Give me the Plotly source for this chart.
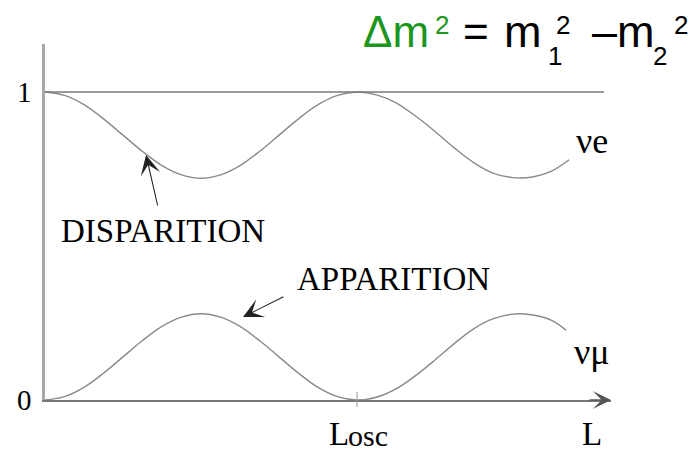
import plotly.graph_objects as go

# Distance along the baseline, in units of the oscillation length L_osc
L_OSC = 1.0
X_MAX = 1.814          # end of the distance axis (arrow tip)
Y_MAX = 1.156          # top of the probability axis

# Survival probability of the electron neutrino
x_e = [0.0, 0.0625, 0.125, 0.1875, 0.25, 0.3125, 0.375, 0.4375, 0.5,
       0.5625, 0.625, 0.6875, 0.75, 0.8125, 0.875, 0.9375, 1.0,
       1.0625, 1.125, 1.1875, 1.25, 1.3125, 1.375, 1.4375, 1.5,
       1.5625, 1.625, 1.68]
p_e = [1.0, 0.989, 0.959, 0.913, 0.86, 0.807, 0.761, 0.731, 0.72,
       0.731, 0.761, 0.807, 0.86, 0.913, 0.959, 0.989, 1.0,
       0.991, 0.965, 0.922, 0.872, 0.818, 0.770, 0.736, 0.722,
       0.724, 0.744, 0.78]

# Appearance probability of the muon neutrino
x_mu = [0.0, 0.0625, 0.125, 0.1875, 0.25, 0.3125, 0.375, 0.4375, 0.5,
        0.5625, 0.625, 0.6875, 0.75, 0.8125, 0.875, 0.9375, 1.0,
        1.0625, 1.125, 1.1875, 1.25, 1.3125, 1.375, 1.4375, 1.5,
        1.5625, 1.625, 1.67]
p_mu = [0.0, 0.011, 0.041, 0.087, 0.14, 0.193, 0.239, 0.269, 0.28,
        0.269, 0.239, 0.193, 0.14, 0.087, 0.041, 0.011, 0.0,
        0.009, 0.036, 0.079, 0.130, 0.184, 0.232, 0.264, 0.279,
        0.276, 0.258, 0.227]

y_ticks = [0, 1]
y_tick_text = ["0", "1"]

W, H = 698, 453
ML, MR, MT, MB = 45, 87, 44, 53
PW, PH = W - ML - MR, H - MT - MB


def px_x(px):
    """pixel column -> paper fraction of the plot area"""
    return (px - ML) / PW


def px_y(py):
    """pixel row -> paper fraction of the plot area"""
    return (H - MB - py) / PH


CURVE = "#8a8a8a"
SERIF = "Liberation Serif"
SANS = "Liberation Sans"
GREEN = "#1c961c"

fig = go.Figure()
fig.add_trace(go.Scatter(x=x_e, y=p_e, mode="lines", line_shape="spline",
                         line=dict(color=CURVE, width=1.4), cliponaxis=False,
                         hoverinfo="skip"))
fig.add_trace(go.Scatter(x=x_mu, y=p_mu, mode="lines", line_shape="spline",
                         line=dict(color=CURVE, width=1.4), cliponaxis=False,
                         hoverinfo="skip"))

# reference level P = 1 and the L_osc tick
fig.add_shape(type="line", xref="paper", x0=0, x1=px_x(604), y0=1, y1=1,
              line=dict(color="#7a7a7a", width=1.5))
fig.add_shape(type="line", yref="paper", x0=L_OSC, x1=L_OSC,
              y0=px_y(392), y1=px_y(407),
              line=dict(color="#999999", width=1))

ann = []


def text(s, px, py, size, font=SERIF, color="black", xanchor="center"):
    ann.append(dict(text=s, x=px_x(px), y=px_y(py), xref="paper", yref="paper",
                    showarrow=False, xanchor=xanchor, yanchor="middle",
                    font=dict(family=font, size=size, color=color),
                    borderpad=0))


def arrow(tip, tail, width, size, color):
    ann.append(dict(text="", x=px_x(tip[0]), y=px_y(tip[1]),
                    xref="paper", yref="paper",
                    ax=tail[0] - tip[0], ay=tail[1] - tip[1],
                    showarrow=True, arrowhead=3, arrowsize=size,
                    arrowwidth=width, arrowcolor=color, standoff=0))


# axis arrow
arrow((611, 400), (588, 400), 1.6, 1.9, "#555555")
# pointer arrows
arrow((146, 155), (158, 207), 1.1, 3.0, "#222222")
arrow((243, 317), (285, 296), 1.1, 3.0, "#222222")

text("DISPARITION", 163, 231, 33)
text("APPARITION", 393, 279, 33)
text("νe", 592, 141, 36)
text("νμ", 592, 352, 36)
text("L", 592, 434, 33)
text("L", 328, 434, 33, xanchor="left")
text("osc", 347, 435, 30, xanchor="left")

# Δm² = m1² − m2²
text("Δm", 362, 32, 44, SANS, GREEN, "left")
text("2", 434, 25, 26, SANS, GREEN, "left")
text("=", 462, 32, 44, SANS, "black", "left")
text("m", 503, 32, 45, SANS, "black", "left")
text("1", 547, 56, 26, SANS, "black", "left")
text("2", 555, 25, 26, SANS, "black", "left")
text("–m", 591, 32, 45, SANS, "black", "left")
text("2", 652, 56, 26, SANS, "black", "left")
text("2", 673, 25, 26, SANS, "black", "left")

fig.update_layout(
    width=W, height=H, autosize=False,
    margin=dict(l=ML, r=MR, t=MT, b=MB),
    paper_bgcolor="white", plot_bgcolor="white",
    showlegend=False,
    annotations=ann,
    xaxis=dict(range=[0, X_MAX], showgrid=False, zeroline=False,
               showticklabels=False, ticks="", showline=True,
               linecolor="#777777", linewidth=2, fixedrange=True),
    yaxis=dict(range=[0, Y_MAX], showgrid=False, zeroline=False,
               tickvals=y_ticks, ticktext=y_tick_text, ticks="",
               tickfont=dict(family=SERIF, size=29, color="black"),
               ticklabelstandoff=5, showline=True,
               linecolor="#a8a8a8", linewidth=2.5, fixedrange=True),
)

fig.write_html("out.html", config={"displayModeBar": False})
